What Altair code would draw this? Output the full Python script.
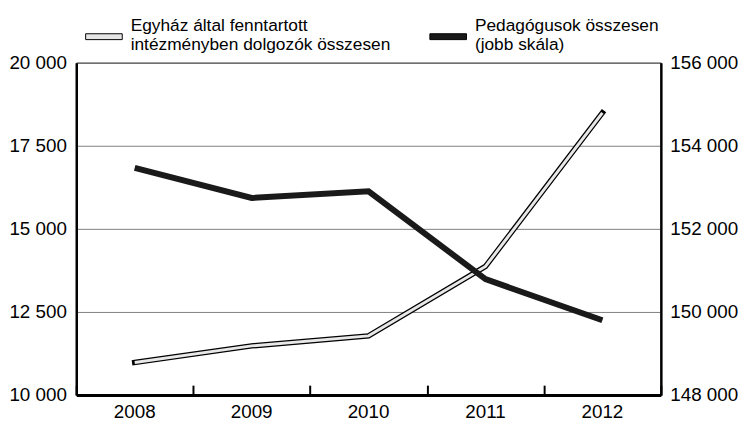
import altair as alt
import pandas as pd

years = ["2008", "2009", "2010", "2011", "2012"]
egyhazi = [10980, 11480, 11780, 13870, 18490]
pedagogus = [153470, 152745, 152905, 150790, 149800]
series_names = [
    "Egyház által fenntartott|intézményben dolgozók összesen",
    "Pedagógusok összesen|(jobb skála)",
]
left_ticks = [10000, 12500, 15000, 17500, 20000]
right_ticks = [148000, 150000, 152000, 154000, 156000]

FONT = "Liberation Sans"
FS = 19
W, H = 591, 336

df_left = pd.DataFrame({"year": years, "value": egyhazi, "series": series_names[0]})
df_right = pd.DataFrame({"year": years, "value": pedagogus, "series": series_names[1]})

fmt = "replace(format(datum.value, ',d'), ',', ' ')"
x_scale = alt.Scale(paddingInner=0, paddingOuter=0)

x_bottom = alt.X(
    "year:O", scale=x_scale, title=None,
    axis=alt.Axis(orient="bottom", domain=False, ticks=False, tickSize=0, labelAngle=0,
                  labelPadding=8, labelFontSize=FS, labelFont=FONT, labelColor="black", grid=False),
)
x_top = alt.X(
    "year:O", scale=x_scale, title=None,
    axis=alt.Axis(orient="top", offset=-H, labels=False, domain=True, domainColor="black",
                  domainWidth=3, ticks=True, tickBand="extent", tickSize=10, tickWidth=2,
                  tickColor="black", grid=False),
)
x_none = alt.X("year:O", scale=x_scale, axis=None)

y_left_scale = alt.Scale(domain=[10000, 20000], nice=False, zero=False)
y_right_scale = alt.Scale(domain=[148000, 156000], nice=False, zero=False)

y_left = alt.Y(
    "value:Q", scale=y_left_scale, title=None,
    axis=alt.Axis(orient="left", values=left_ticks, labelExpr=fmt, domain=True, domainColor="black",
                  domainWidth=2.5, ticks=False, tickSize=0, labelPadding=10, grid=True,
                  gridColor="#808080", gridWidth=1, labelFontSize=FS, labelFont=FONT,
                  labelColor="black"),
)
y_left_none = alt.Y("value:Q", scale=y_left_scale, axis=None)
y_right = alt.Y(
    "value:Q", scale=y_right_scale, title=None,
    axis=alt.Axis(orient="right", values=right_ticks, labelExpr=fmt, domain=True, domainColor="black",
                  domainWidth=2.5, ticks=False, tickSize=0, labelPadding=9, grid=False,
                  labelFontSize=FS, labelFont=FONT, labelColor="black"),
)

outline = alt.Chart(df_left).mark_line(color="black", strokeWidth=5.5, strokeCap="square").encode(
    x=x_bottom, y=y_left
)
inner = alt.Chart(df_left).mark_line(color="#e8e8e8", strokeWidth=3).encode(x=x_none, y=y_left_none)
legend_layer = alt.Chart(df_left).mark_point(filled=True, size=0).encode(
    x=x_none, y=y_left_none,
    fill=alt.Fill(
        "series:N",
        scale=alt.Scale(domain=series_names, range=["#e6e6e6", "#1a1a1a"]),
        legend=alt.Legend(
            orient="none", legendX=9, legendY=-56, direction="horizontal", title=None,
            symbolType="M-1,0.42H1V0.74H-1Z", symbolSize=1369, symbolStrokeColor="black",
            symbolStrokeWidth=1, symbolOpacity=1, labelFontSize=17.5, labelFont=FONT,
            labelColor="black", labelOffset=8, labelExpr="split(datum.label, '|')",
            labelLimit=500, columnPadding=37,
        ),
    ),
)
black = alt.Chart(df_right).mark_line(color="#1a1a1a", strokeWidth=6).encode(x=x_top, y=y_right)

chart = (
    alt.layer(outline, inner, legend_layer, black)
    .resolve_scale(y="independent")
    .resolve_axis(x="independent")
    .properties(
        width=W, height=H,
        autosize=alt.AutoSizeParams(type="none"),
        padding={"left": 69, "top": 53, "right": 79, "bottom": 27},
        background="white",
    )
    .configure_view(stroke="black", strokeWidth=1)
)

chart.save("out.html", embed_options={"renderer": "svg", "actions": False})
